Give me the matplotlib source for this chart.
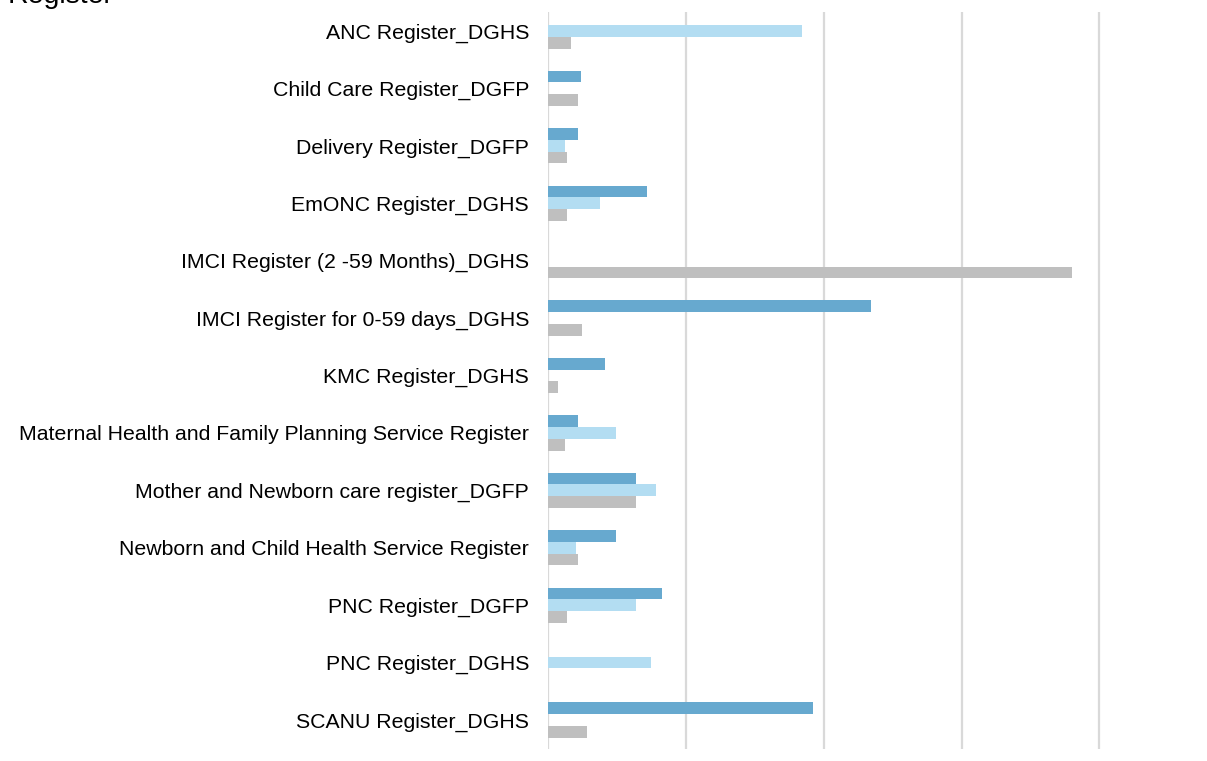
import matplotlib
matplotlib.use("Agg")
import matplotlib.pyplot as plt
import numpy as np

plt.rcParams['font.family'] = ['Liberation Sans', 'DejaVu Sans']

categories = ["ANC Register_DGHS", "Child Care Register_DGFP", "Delivery Register_DGFP",
              "EmONC Register_DGHS", "IMCI Register (2 -59 Months)_DGHS",
              "IMCI Register for 0-59 days_DGHS", "KMC Register_DGHS",
              "Maternal Health and Family Planning Service Register",
              "Mother and Newborn care register_DGFP",
              "Newborn and Child Health Service Register", "PNC Register_DGFP",
              "PNC Register_DGHS", "SCANU Register_DGHS"]

series_dark = [0, 2.4, 2.2, 7.2, 0, 23.4, 4.1, 2.2, 6.4, 4.9, 8.3, 0, 19.2]
series_light = [18.4, 0, 1.2, 3.8, 0, 0, 0, 4.9, 7.8, 2.0, 6.4, 7.5, 0]
series_gray = [1.7, 2.2, 1.4, 1.4, 38.0, 2.5, 0.7, 1.2, 6.4, 2.2, 1.4, 0, 2.8]

cols = ['#67A9CF', '#B3DDF2', '#BFBFBF']

fig = plt.figure(figsize=(12.07, 7.61), dpi=100)
ax = fig.add_axes([548/1207, 12/761, 1 - 548/1207, 737/761])

y = np.arange(len(categories))
h = 0.205
ax.barh(y - h, series_dark, height=h, color=cols[0], zorder=3)
ax.barh(y, series_light, height=h, color=cols[1], zorder=3)
ax.barh(y + h, series_gray, height=h, color=cols[2], zorder=3)

ax.set_ylim(12.505, -0.33)
ax.set_xlim(0, 47.8)
ax.set_yticks(y)
ax.set_yticklabels(categories, fontsize=15.3)
ax.set_xticks([0, 10, 20, 30, 40])
ax.set_xticklabels([])
ax.tick_params(axis='both', length=0)
ax.tick_params(axis='y', pad=13.7)
ax.xaxis.grid(True, color='#D9D9D9', linewidth=1.6)
ax.set_axisbelow(True)
for s in ax.spines.values():
    s.set_visible(False)

fig.text(8/1207, 1 - 3/761, "Register", fontsize=20.5, ha='left', va='baseline')

fig.savefig("out.png", dpi=100)
